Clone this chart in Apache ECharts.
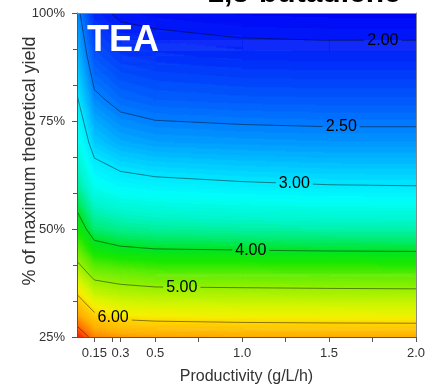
<!DOCTYPE html>
<html><head><meta charset="utf-8">
<script src="https://cdn.jsdelivr.net/npm/echarts@6/dist/echarts.min.js"></script>
<style>html,body{margin:0;padding:0;background:#fff;}#c{width:428px;height:390px;}</style>
</head><body><div id="c"></div>
<script>
// ---- data ----
const productivity = [0.05, 0.15, 0.3, 0.5, 1.0, 1.5, 2.0];
const yieldPct = [25, 30, 35, 40, 45, 50, 60, 70, 80, 90, 100];
const cost25  = [7.42, 6.80, 6.67, 6.61, 6.54, 6.52, 6.51];
const cost30  = [6.59, 6.10, 5.84, 5.78, 5.74, 5.72, 5.71];
const cost35  = [5.98, 5.39, 5.25, 5.19, 5.17, 5.15, 5.14];
const cost40  = [5.29, 4.78, 4.68, 4.59, 4.57, 4.55, 4.53];
const cost45  = [4.72, 4.19, 4.08, 4.03, 4.01, 3.99, 3.98];
const cost50  = [4.24, 3.79, 3.69, 3.65, 3.62, 3.60, 3.59];
const cost60  = [3.66, 3.25, 3.14, 3.09, 3.04, 3.01, 3.00];
const cost70  = [3.30, 2.86, 2.72, 2.66, 2.63, 2.61, 2.61];
const cost80  = [3.03, 2.56, 2.41, 2.35, 2.32, 2.31, 2.31];
const cost90  = [2.79, 2.29, 2.16, 2.12, 2.08, 2.07, 2.07];
const cost100 = [2.59, 2.07, 1.96, 1.93, 1.89, 1.88, 1.88];
const contourLevels = [2.0, 2.5, 3.0, 4.0, 5.0, 6.0, 7.0];
const contourLabels = ['2.00', '2.50', '3.00', '4.00', '5.00', '6.00', ''];
const xTickLabels = [0.15, 0.3, 0.5, 1.0, 1.5, 2.0];
const xTickMarks = [0.15, 0.25, 0.3, 0.5, 0.75, 1.0, 1.25, 1.5, 1.75, 2.0];

// ---- layout / style ----
const labelAtP = [1.81, 1.57, 1.30, 1.05, 0.653, 0.258, null];
const colorStops = [
  [1.85, 0, 0, 245], [2.0, 0, 25, 248], [2.5, 0, 125, 255], [2.75, 0, 180, 255],
  [3.0, 0, 232, 255], [3.2, 0, 255, 250], [3.5, 0, 245, 200], [3.8, 0, 235, 110],
  [4.0, 0, 228, 35], [4.3, 25, 232, 0], [4.6, 90, 236, 0], [5.0, 150, 240, 0],
  [5.5, 215, 245, 0], [5.8, 245, 240, 0], [6.0, 255, 215, 0], [6.5, 255, 175, 0],
  [7.0, 255, 100, 0], [7.45, 240, 15, 0]
];
const FONT = "'Liberation Sans', Arial, sans-serif";

const grid = [cost25, cost30, cost35, cost40, cost45, cost50, cost60, cost70, cost80, cost90, cost100];

const colorCache = {};
function colorFor(v) {
  const q = Math.floor(v / 0.05);
  if (colorCache[q]) return colorCache[q];
  const vq = (q + 0.5) * 0.05;
  let c;
  if (vq <= colorStops[0][0]) c = colorStops[0];
  else if (vq >= colorStops[colorStops.length - 1][0]) c = colorStops[colorStops.length - 1];
  else {
    for (let i = 0; i < colorStops.length - 1; i++) {
      const a = colorStops[i], b = colorStops[i + 1];
      if (vq >= a[0] && vq <= b[0]) {
        const t = (vq - a[0]) / (b[0] - a[0]);
        c = [vq, a[1] + t * (b[1] - a[1]), a[2] + t * (b[2] - a[2]), a[3] + t * (b[3] - a[3])];
        break;
      }
    }
  }
  const s = 'rgb(' + Math.round(c[1]) + ',' + Math.round(c[2]) + ',' + Math.round(c[3]) + ')';
  colorCache[q] = s;
  return s;
}

// cells
const cells = [];
for (let j = 0; j < yieldPct.length - 1; j++) {
  for (let i = 0; i < productivity.length - 1; i++) {
    cells.push([productivity[i], productivity[i + 1], yieldPct[j], yieldPct[j + 1],
      grid[j][i], grid[j][i + 1], grid[j + 1][i], grid[j + 1][i + 1]]);
  }
}

// marching squares
function contourSegments(level) {
  const segs = [];
  for (let j = 0; j < yieldPct.length - 1; j++) {
    for (let i = 0; i < productivity.length - 1; i++) {
      const x0 = productivity[i], x1 = productivity[i + 1], y0 = yieldPct[j], y1 = yieldPct[j + 1];
      const a = grid[j][i], b = grid[j][i + 1], c = grid[j + 1][i + 1], d = grid[j + 1][i];
      const pts = [];
      const edge = (va, vb, pa, pb) => {
        if ((va < level) !== (vb < level)) {
          const t = (level - va) / (vb - va);
          pts.push([pa[0] + t * (pb[0] - pa[0]), pa[1] + t * (pb[1] - pa[1])]);
        }
      };
      edge(a, b, [x0, y0], [x1, y0]);
      edge(b, c, [x1, y0], [x1, y1]);
      edge(c, d, [x1, y1], [x0, y1]);
      edge(d, a, [x0, y1], [x0, y0]);
      if (pts.length >= 2) segs.push([pts[0], pts[1]]);
      if (pts.length === 4) segs.push([pts[2], pts[3]]);
    }
  }
  return segs;
}

const segData = [];
const labelData = [];
contourLevels.forEach((lv, k) => {
  const segs = contourSegments(lv);
  segs.forEach(s => segData.push([s[0][0], s[0][1], s[1][0], s[1][1], k]));
  const pL = labelAtP[k];
  if (pL != null && contourLabels[k]) {
    for (const s of segs) {
      const xa = Math.min(s[0][0], s[1][0]), xb = Math.max(s[0][0], s[1][0]);
      if (pL >= xa && pL <= xb && xb > xa) {
        const t = (pL - s[0][0]) / (s[1][0] - s[0][0]);
        labelData.push([pL, s[0][1] + t * (s[1][1] - s[0][1]), k]);
        break;
      }
    }
  }
});
const labelPosByK = {};
labelData.forEach(d => { labelPosByK[d[2]] = [d[0], d[1]]; });

const LABEL_FONT_SIZE = 16;
const mctx = document.createElement('canvas').getContext('2d');
mctx.font = LABEL_FONT_SIZE + 'px ' + FONT;
const labelHalfW = mctx.measureText('0.00').width / 2 + 3;

const chart = echarts.init(document.getElementById('c'), null, { renderer: 'canvas' });

const axisText = { color: '#333', fontSize: 13, fontFamily: FONT };

chart.setOption({
  animation: false,
  backgroundColor: '#fff',
  grid: { left: 77, right: 12, top: 13, bottom: 52, show: false },
  xAxis: [{
    type: 'value', min: 0.05, max: 2.0, z: 10,
    name: 'Productivity (g/L/h)', nameLocation: 'middle', nameGap: 32,
    nameTextStyle: { color: '#333', fontSize: 16, fontFamily: FONT },
    axisLine: { show: true, onZero: false, lineStyle: { color: '#555', width: 1 } },
    axisTick: { show: true, inside: false, length: 5, customValues: xTickMarks, lineStyle: { color: '#555' } },
    axisLabel: Object.assign({ margin: 10, customValues: xTickLabels,
      formatter: v => (Math.abs(v * 10 - Math.round(v * 10)) < 1e-9) ? v.toFixed(1) : String(v) }, axisText),
    splitLine: { show: false }
  }, {
    type: 'value', min: 0.05, max: 2.0, position: 'top', z: 10,
    axisLine: { show: true, onZero: false, lineStyle: { color: '#888', width: 1 } },
    axisTick: { show: false }, axisLabel: { show: false }, splitLine: { show: false }
  }],
  yAxis: [{
    type: 'value', min: 25, max: 100, interval: 25, z: 10,
    axisLine: { show: true, onZero: false, lineStyle: { color: '#555', width: 1 } },
    axisTick: { show: true, inside: false, length: 5, lineStyle: { color: '#555' } },
    minorTick: { show: true, splitNumber: 3, length: 4, lineStyle: { color: '#555' } },
    axisLabel: Object.assign({ margin: 12, formatter: v => v + '%' }, axisText),
    splitLine: { show: false }, minorSplitLine: { show: false }
  }, {
    type: 'value', min: 25, max: 100, position: 'right', z: 10,
    axisLine: { show: true, onZero: false, lineStyle: { color: '#888', width: 1 } },
    axisTick: { show: false }, axisLabel: { show: false }, splitLine: { show: false }
  }],
  series: [{
    type: 'custom', name: 'fill', z: 1, clip: true, silent: true,
    coordinateSystem: 'cartesian2d', xAxisIndex: 0, yAxisIndex: 0,
    encode: { x: [0, 1], y: [2, 3] },
    data: cells,
    renderItem: function (params, api) {
      const p0 = api.value(0), p1 = api.value(1), y0 = api.value(2), y1 = api.value(3);
      const v00 = api.value(4), v10 = api.value(5), v01 = api.value(6), v11 = api.value(7);
      const a = api.coord([p0, y0]), b = api.coord([p1, y1]);
      const left = a[0], right = b[0], bottom = a[1], top = b[1];
      const W = right - left, H = bottom - top;
      const rows = Math.max(1, Math.round(H)), cols = Math.max(1, Math.round(W));
      const cw = W / cols, rh = H / rows;
      const children = [];
      for (let r = 0; r < rows; r++) {
        const t = 1 - (r + 0.5) / rows;
        const yy = top + r * rh;
        let start = 0, runColor = null;
        for (let c = 0; c <= cols; c++) {
          let col = null;
          if (c < cols) {
            const s = (c + 0.5) / cols;
            const v = v00 * (1 - s) * (1 - t) + v10 * s * (1 - t) + v01 * (1 - s) * t + v11 * s * t;
            col = colorFor(v);
          }
          if (col !== runColor) {
            if (runColor !== null) {
              children.push({ type: 'rect', shape: { x: left + start * cw, y: yy, width: (c - start) * cw + 0.7, height: rh + 0.7 },
                style: { fill: runColor }, silent: true });
            }
            start = c; runColor = col;
          }
        }
      }
      return { type: 'group', children: children };
    }
  }, {
    type: 'custom', name: 'contours', z: 3, clip: true, silent: true,
    coordinateSystem: 'cartesian2d', xAxisIndex: 0, yAxisIndex: 0,
    encode: { x: [0, 2], y: [1, 3] },
    data: segData,
    renderItem: function (params, api) {
      const A = api.coord([api.value(0), api.value(1)]);
      const B = api.coord([api.value(2), api.value(3)]);
      const k = api.value(4);
      let P = A[0] <= B[0] ? A : B, Q = A[0] <= B[0] ? B : A;
      let parts = [[P, Q]];
      const lp = labelPosByK[k];
      if (lp) {
        const c = api.coord(lp);
        const L = c[0] - labelHalfW, R = c[0] + labelHalfW;
        if (!(Q[0] <= L || P[0] >= R)) {
          parts = [];
          const yAt = x => P[1] + (x - P[0]) / (Q[0] - P[0] || 1) * (Q[1] - P[1]);
          if (P[0] < L) parts.push([P, [L, yAt(L)]]);
          if (Q[0] > R) parts.push([[R, yAt(R)], Q]);
        }
      }
      return {
        type: 'group',
        children: parts.map(s => ({
          type: 'line',
          shape: { x1: s[0][0], y1: s[0][1], x2: s[1][0], y2: s[1][1] },
          style: { stroke: 'rgba(0,0,0,0.45)', lineWidth: 1 }, silent: true
        }))
      };
    }
  }, {
    type: 'custom', name: 'contourLabels', z: 4, clip: false, silent: true,
    coordinateSystem: 'cartesian2d', xAxisIndex: 0, yAxisIndex: 0,
    encode: { x: 0, y: 1 },
    data: labelData,
    renderItem: function (params, api) {
      const c = api.coord([api.value(0), api.value(1)]);
      return {
        type: 'text', x: c[0], y: c[1], silent: true,
        style: { text: contourLabels[api.value(2)], fill: '#000', font: LABEL_FONT_SIZE + 'px ' + FONT,
          align: 'center', verticalAlign: 'middle' }
      };
    }
  }],
  graphic: [{
    type: 'text', x: 87, y: 41, z: 100,
    style: { text: 'TEA', fill: '#fff', font: 'bold 36px ' + FONT, align: 'left', verticalAlign: 'middle' }
  }, {
    type: 'text', x: 304, y: -6, z: 100,
    style: { text: '1,3-butadiene', fill: '#000', font: 'bold 30px ' + FONT, align: 'center', verticalAlign: 'middle' }
  }, {
    type: 'text', x: 30, y: 161, rotation: Math.PI / 2, z: 100,
    style: { text: '% of maximum theoretical yield', fill: '#333', font: '18px ' + FONT, align: 'center', verticalAlign: 'middle' }
  }]
});
</script>
</body></html>
